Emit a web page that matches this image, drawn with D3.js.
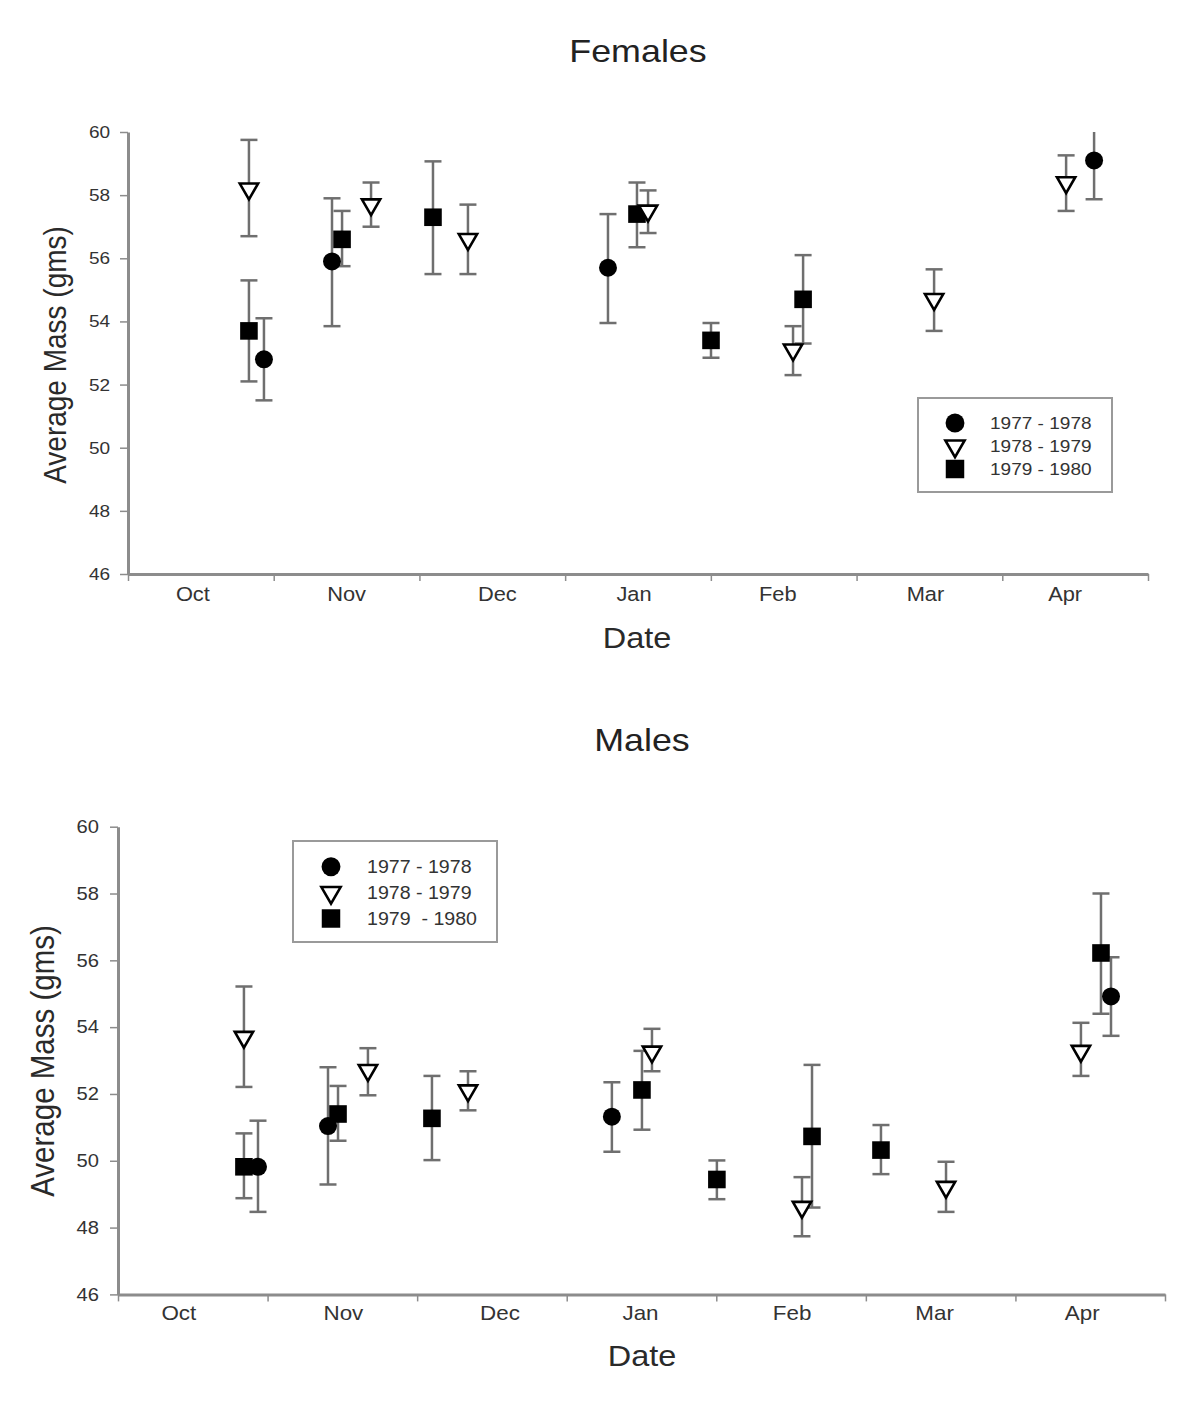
<!DOCTYPE html>
<html>
<head>
<meta charset="utf-8">
<script src="https://cdn.jsdelivr.net/npm/d3@7"></script>
<style>
  html, body { margin: 0; padding: 0; background: #fff; }
  svg { display: block; }
  text { font-family: "Liberation Sans", Arial, sans-serif; white-space: pre; }
</style>
</head>
<body>
<svg id="chart" width="1200" height="1402"></svg>
<script>
// ---------- data ----------
const months = ["Oct", "Nov", "Dec", "Jan", "Feb", "Mar", "Apr"];
const yTicks = [46, 48, 50, 52, 54, 56, 58, 60];
const seasonsF = ["1977 - 1978", "1978 - 1979", "1979 - 1980"];
const seasonsM = ["1977 - 1978", "1978 - 1979", "1979  - 1980"];

// t = position in months from 1 Oct; m = mean; lo / hi = error bar ends
const females1977 = [
  { t: 0.933, m: 52.8, lo: 51.5, hi: 54.1 },
  { t: 1.400, m: 55.9, lo: 53.85, hi: 57.9 },
  { t: 3.294, m: 55.7, lo: 53.95, hi: 57.4 },
  { t: 6.630, m: 59.1, lo: 57.87, hi: 60.3 }
];
const females1978 = [
  { t: 0.830, m: 58.2, lo: 56.7, hi: 59.75 },
  { t: 1.668, m: 57.7, lo: 57.0, hi: 58.4 },
  { t: 2.333, m: 56.6, lo: 55.5, hi: 57.7 },
  { t: 3.569, m: 57.5, lo: 56.8, hi: 58.15 },
  { t: 4.564, m: 53.1, lo: 52.3, hi: 53.85 },
  { t: 5.532, m: 54.7, lo: 53.7, hi: 55.65 },
  { t: 6.438, m: 58.4, lo: 57.5, hi: 59.26 }
];
const females1979 = [
  { t: 0.830, m: 53.7, lo: 52.1, hi: 55.3 },
  { t: 1.469, m: 56.6, lo: 55.75, hi: 57.5 },
  { t: 2.093, m: 57.3, lo: 55.5, hi: 59.07 },
  { t: 3.493, m: 57.4, lo: 56.35, hi: 58.4 },
  { t: 4.001, m: 53.4, lo: 52.85, hi: 53.95 },
  { t: 4.633, m: 54.7, lo: 53.3, hi: 56.1 }
];

const males1977 = [
  { t: 0.936, m: 49.82, lo: 48.47, hi: 51.2 },
  { t: 1.404, m: 51.04, lo: 49.29, hi: 52.8 },
  { t: 3.302, m: 51.32, lo: 50.27, hi: 52.35 },
  { t: 6.639, m: 54.92, lo: 53.74, hi: 56.09 }
];
const males1978 = [
  { t: 0.842, m: 53.7, lo: 52.21, hi: 55.22 },
  { t: 1.671, m: 52.71, lo: 51.96, hi: 53.37 },
  { t: 2.340, m: 52.1, lo: 51.51, hi: 52.68 },
  { t: 3.570, m: 53.26, lo: 52.68, hi: 53.95 },
  { t: 4.573, m: 48.61, lo: 47.74, hi: 49.51 },
  { t: 5.536, m: 49.21, lo: 48.47, hi: 49.97 },
  { t: 6.438, m: 53.28, lo: 52.54, hi: 54.13 }
];
const males1979 = [
  { t: 0.842, m: 49.82, lo: 48.88, hi: 50.82 },
  { t: 1.471, m: 51.4, lo: 50.6, hi: 52.24 },
  { t: 2.099, m: 51.27, lo: 50.02, hi: 52.54 },
  { t: 3.503, m: 52.12, lo: 50.93, hi: 53.29 },
  { t: 4.004, m: 49.44, lo: 48.85, hi: 50.01 },
  { t: 4.640, m: 50.73, lo: 48.6, hi: 52.87 },
  { t: 5.101, m: 50.32, lo: 49.6, hi: 51.07 },
  { t: 6.572, m: 56.22, lo: 54.4, hi: 58.0 }
];

// ---------- drawing ----------
const SX = 1.12;
const svg = d3.select("#chart");
const AXIS = "#8c8c8c";
const BAR = "#6f6f6f";
const TXT = "#2a2a2a";

function stext(g, x, y, str, size, anchor, rotate) {
  const t = g.append("text")
    .attr("transform", `translate(${x},${y}) scale(${SX},1)` + (rotate ? ` rotate(${rotate})` : ""))
    .attr("text-anchor", anchor || "middle")
    .style("font-size", size + "px")
    .attr("fill", TXT)
    .text(str);
  return t;
}

const symCircle = d3.symbol().type(d3.symbolCircle);
const symSquare = d3.symbol().type(d3.symbolSquare);
const symTri = d3.symbol().type(d3.symbolTriangle);

function drawMarker(g, kind, x, y, scale) {
  const s = scale || 1;
  if (kind === 0) {
    g.append("path").attr("d", symCircle.size(254 * s * s)()).attr("transform", `translate(${x},${y})`).attr("fill", "#000");
  } else if (kind === 1) {
    g.append("path").attr("d", symTri.size(145 * s * s)()).attr("transform", `translate(${x},${y}) rotate(180)`)
      .attr("fill", "#fff").attr("stroke", "#000").attr("stroke-width", 2.6).attr("stroke-linejoin", "miter");
  } else {
    g.append("path").attr("d", symSquare.size(310 * s * s)()).attr("transform", `translate(${x},${y})`).attr("fill", "#000");
  }
}

function panel(cfg) {
  const x = d3.scaleLinear().domain([0, 7]).range([cfg.x0, cfg.x1]);
  const y = d3.scaleLinear().domain([46, 60]).range([cfg.y46, cfg.y60]);
  const g = svg.append("g");

  // title
  stext(g, cfg.titleX, cfg.titleY, cfg.title, 32, "middle").attr("fill", "#222");

  // clip for error bars
  const clipId = "clip-" + cfg.id;
  svg.append("clipPath").attr("id", clipId).append("rect")
    .attr("x", cfg.x0).attr("y", cfg.y60).attr("width", cfg.x1 - cfg.x0).attr("height", cfg.y46 - cfg.y60);

  // axes
  const yAxis = d3.axisLeft(y).tickValues(yTicks).tickSize(8).tickSizeOuter(0).tickPadding(cfg.yPad).tickFormat(d3.format("d"));
  const ya = g.append("g").attr("transform", `translate(${cfg.x0},0)`).call(yAxis);
  ya.select(".domain").attr("stroke", AXIS).attr("stroke-width", 3);
  ya.selectAll(".tick line").attr("stroke", AXIS).attr("stroke-width", 1.5);
  ya.selectAll(".tick text").attr("fill", "#333").style("font-size", cfg.yTickSize + "px")
    .style("font-family", '"Liberation Sans", Arial, sans-serif')
    .attr("transform", `scale(${SX},1)`);

  const xAxis = d3.axisBottom(x).tickValues(d3.range(0, 8)).tickSize(7).tickSizeOuter(0).tickFormat("");
  const xa = g.append("g").attr("transform", `translate(0,${cfg.y46})`).call(xAxis);
  xa.select(".domain").attr("stroke", AXIS).attr("stroke-width", 3);
  xa.selectAll(".tick line").attr("stroke", AXIS).attr("stroke-width", 1.5);

  months.forEach((mName, i) => {
    stext(g, x(i + 0.5) + cfg.xLabDx[i], cfg.xLabY, mName, cfg.xTickSize, "middle").attr("fill", "#333");
  });

  // axis titles
  stext(g, cfg.dateX, cfg.dateY, "Date", 29, "middle");
  stext(g, cfg.ylabX, cfg.ylabY, "Average Mass (gms)", cfg.ylabSize, "middle", -90);

  // error bars
  const bars = g.append("g").attr("clip-path", `url(#${clipId})`);
  cfg.series.forEach(ser => {
    ser.forEach(d => {
      const cx = x(d.t);
      bars.append("line").attr("x1", cx).attr("x2", cx).attr("y1", y(d.lo)).attr("y2", y(d.hi))
        .attr("stroke", BAR).attr("stroke-width", 2.5);
      [d.lo, d.hi].forEach(v => {
        bars.append("line").attr("x1", cx - 8.5).attr("x2", cx + 8.5).attr("y1", y(v)).attr("y2", y(v))
          .attr("stroke", BAR).attr("stroke-width", 2.5);
      });
    });
  });

  // markers: squares, then triangles, then circles
  const mk = g.append("g");
  [2, 1, 0].forEach(k => {
    cfg.series[k].forEach(d => drawMarker(mk, k, x(d.t), y(d.m)));
  });

  // legend
  const L = cfg.legend;
  g.append("rect").attr("x", L.x).attr("y", L.y).attr("width", L.w).attr("height", L.h)
    .attr("fill", "#fff").attr("stroke", "#9a9a9a").attr("stroke-width", 2);
  L.labels.forEach((lab, i) => {
    const ry = L.rowY + i * L.rowH;
    drawMarker(g, i, L.mx, ry, 1.05);
    stext(g, L.tx, ry + 6, lab, L.size, "start").attr("fill", "#333");
  });
}

panel({
  id: "f", title: "Females", titleX: 638, titleY: 62,
  x0: 128, x1: 1148, y46: 574, y60: 132,
  yPad: 8, yTickSize: 17, xTickSize: 19.5, xLabY: 601, xLabDx: [-8, 0, 5, -4, -6, -4, -10],
  dateX: 637, dateY: 648,
  ylabX: 66, ylabY: 355, ylabSize: 28,
  series: [females1977, females1978, females1979],
  legend: { x: 918, y: 398, w: 194, h: 94, mx: 955, rowY: 423, rowH: 23, tx: 990, size: 17, labels: seasonsF }
});

panel({
  id: "m", title: "Males", titleX: 642, titleY: 751,
  x0: 118, x1: 1165, y46: 1294.4, y60: 826.7,
  yPad: 9, yTickSize: 18, xTickSize: 20, xLabY: 1320, xLabDx: [-14, 1, 8, -1, 1, -6, -8],
  dateX: 642, dateY: 1366,
  ylabX: 54, ylabY: 1061, ylabSize: 29.5,
  series: [males1977, males1978, males1979],
  legend: { x: 293, y: 841, w: 204, h: 101, mx: 331, rowY: 866.7, rowH: 25.9, tx: 367, size: 17.5, labels: seasonsM }
});
</script>
</body>
</html>
